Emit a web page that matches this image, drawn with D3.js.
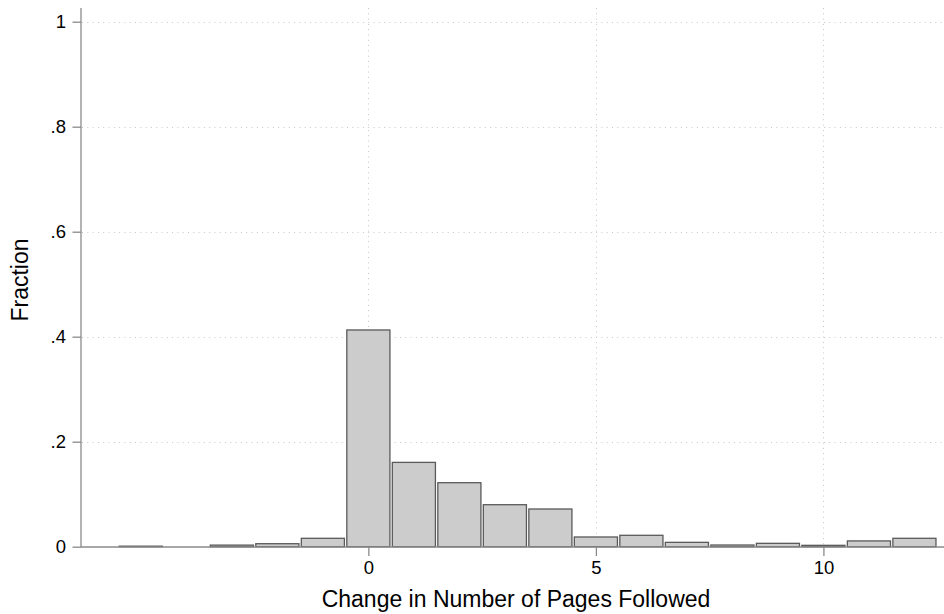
<!DOCTYPE html>
<html>
<head>
<meta charset="utf-8">
<script src="https://cdn.jsdelivr.net/npm/d3@7"></script>
<style>
  body { margin: 0; background: #fff; }
  svg { display: block; font-family: "Liberation Sans", Arial, sans-serif; }
</style>
</head>
<body>
<svg id="chart" width="944" height="614"></svg>
<script>
const binCenters = [-5, -4, -3, -2, -1, 0, 1, 2, 3, 4, 5, 6, 7, 8, 9, 10, 11, 12];
const fractions  = [0.001, 0, 0.003, 0.0057, 0.016, 0.4128, 0.1606, 0.1219, 0.080, 0.0718, 0.0185, 0.0217, 0.0083, 0.0032, 0.0064, 0.0026, 0.011, 0.016];
const xTicks = [0, 5, 10];
const yTicks = [0, 0.2, 0.4, 0.6, 0.8, 1];
const yTickLabels = ["0", ".2", ".4", ".6", ".8", "1"];
const xTitle = "Change in Number of Pages Followed";
const yTitle = "Fraction";

(function () {
const svg = d3.select("#chart");
const pL = 81, pR = 944, pT = 8, pB = 547;
const FONT = "'Liberation Sans', Arial, sans-serif";

const x = d3.scaleLinear().domain([-6.315, 12.65]).range([pL, pR]);
const y = d3.scaleLinear().domain([0, 1]).range([546.7, 21.7]);

const data = binCenters.map((c, i) => ({ c, v: fractions[i] }));

// grid lines
svg.append("g").selectAll("line").data(yTicks.filter(d => d > 0)).join("line")
  .attr("x1", pL + 1).attr("x2", pR)
  .attr("y1", d => Math.round(y(d)) + 0.5).attr("y2", d => Math.round(y(d)) + 0.5)
  .attr("stroke", "#c8c8c8").attr("stroke-width", 1).attr("stroke-dasharray", "1,4.3");
svg.append("g").selectAll("line").data(xTicks).join("line")
  .attr("x1", d => Math.round(x(d)) + 0.5).attr("x2", d => Math.round(x(d)) + 0.5)
  .attr("y1", pT).attr("y2", pB)
  .attr("stroke", "#c8c8c8").attr("stroke-width", 1).attr("stroke-dasharray", "1,4.3");

// bars
const bw = x(1) - x(0);
svg.append("g").selectAll("rect").data(data.filter(d => d.v > 0)).join("rect")
  .attr("x", d => x(d.c - 0.5) + 1.2)
  .attr("width", bw - 2.4)
  .attr("y", d => y(d.v))
  .attr("height", d => Math.max(0.5, y(0) - y(d.v)))
  .attr("fill", "#cccccc")
  .attr("stroke", "#5a5a5a")
  .attr("stroke-width", 1.3);

// axes
const axisColor = "#8a8a8a";
const yAxis = svg.append("g").attr("transform", `translate(${pL},0)`)
  .call(d3.axisLeft(y).tickValues(yTicks).tickFormat((d, i) => yTickLabels[i]).tickSize(8.5).tickPadding(6.5));
yAxis.select(".domain").attr("d", `M0,${pT}V${pB}`).attr("stroke", axisColor).attr("stroke-width", 1.3);
yAxis.selectAll(".tick line").attr("stroke", axisColor).attr("stroke-width", 1.3);
yAxis.selectAll(".tick text").attr("font-size", 18.5).attr("fill", "#000").attr("font-family", FONT);

const xAxis = svg.append("g").attr("transform", `translate(0,${pB})`)
  .call(d3.axisBottom(x).tickValues(xTicks).tickFormat(d3.format("d")).tickSize(9).tickPadding(5));
xAxis.select(".domain").attr("d", `M${pL},0H${pR}`).attr("stroke", axisColor).attr("stroke-width", 1.3);
xAxis.selectAll(".tick line").attr("stroke", axisColor).attr("stroke-width", 1.3);
xAxis.selectAll(".tick text").attr("font-size", 18.5).attr("fill", "#000").attr("font-family", FONT);

// titles
svg.append("text").attr("x", 516).attr("y", 606.5)
  .attr("text-anchor", "middle").attr("font-size", 23).attr("fill", "#000").attr("font-family", FONT).text(xTitle);
svg.append("text").attr("transform", "translate(27.5,280) rotate(-90)")
  .attr("text-anchor", "middle").attr("font-size", 23).attr("fill", "#000").attr("font-family", FONT).text(yTitle);
})();
</script>
</body>
</html>
